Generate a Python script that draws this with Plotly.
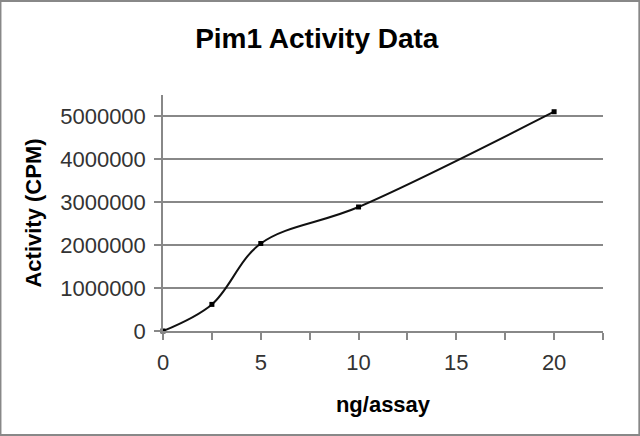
import plotly.graph_objects as go

# Pim1 activity data
ng_per_assay = [0, 2.5, 5, 10, 20]
activity_cpm = [0, 620000, 2040000, 2890000, 5110000]
x_ticks = [0, 5, 10, 15, 20]
y_ticks = [0, 1000000, 2000000, 3000000, 4000000, 5000000]

fig = go.Figure()

fig.add_trace(go.Scatter(
    x=ng_per_assay,
    y=activity_cpm,
    mode='lines+markers',
    line=dict(color='#111111', width=2, shape='spline', smoothing=1),
    marker=dict(symbol='square', size=5, color='#000000'),
    cliponaxis=False,
    showlegend=False
))

fig.update_layout(
    width=640,
    height=436,
    margin=dict(l=163, r=37, t=95, b=105),
    paper_bgcolor='white',
    plot_bgcolor='white',
    font=dict(family='Liberation Sans, Arial, sans-serif', color='#222222'),
    title=dict(text='<b>Pim1 Activity Data</b>', x=0.495, xanchor='center',
               y=0.912, yanchor='middle',
               font=dict(size=28, color='#000000')),
)

# frame round the whole picture
fig.add_shape(type='rect', xref='paper', yref='paper',
              x0=-0.3694, x1=1.0826, y0=-0.4407, y1=1.398,
              line=dict(color='#888888', width=2), layer='below')

fig.update_xaxes(
    range=[0, 22.5],
    tickvals=x_ticks,
    ticks='outside', ticklen=7, tickcolor='#888888', tickwidth=1.5,
    minor=dict(dtick=2.5, ticks='outside', ticklen=7, tickcolor='#888888', tickwidth=1.5),
    showline=True, linecolor='#888888', linewidth=1.5,
    showgrid=False, zeroline=False,
    tickfont=dict(size=22, color='#333333'),
    ticklabelstandoff=4,
    title=dict(text='<b>ng/assay</b>', font=dict(size=22, color='#000000'), standoff=22),
)

fig.update_yaxes(
    range=[0, 5500000],
    tickvals=y_ticks,
    tickformat='d',
    ticks='outside', ticklen=7, tickcolor='#888888', tickwidth=1.5,
    showline=True, linecolor='#888888', linewidth=1.5,
    showgrid=True, gridcolor='#888888', gridwidth=1.5,
    zeroline=False,
    tickfont=dict(size=22, color='#333333'),
    ticklabelstandoff=4,
    title=dict(text='<b>Activity (CPM)</b>', font=dict(size=22, color='#000000'), standoff=12),
)

# drop the default page margin so the figure sits at the window corner
fig.write_html('out.html', config={'displayModeBar': False},
               post_script="document.body.style.margin='0';")
